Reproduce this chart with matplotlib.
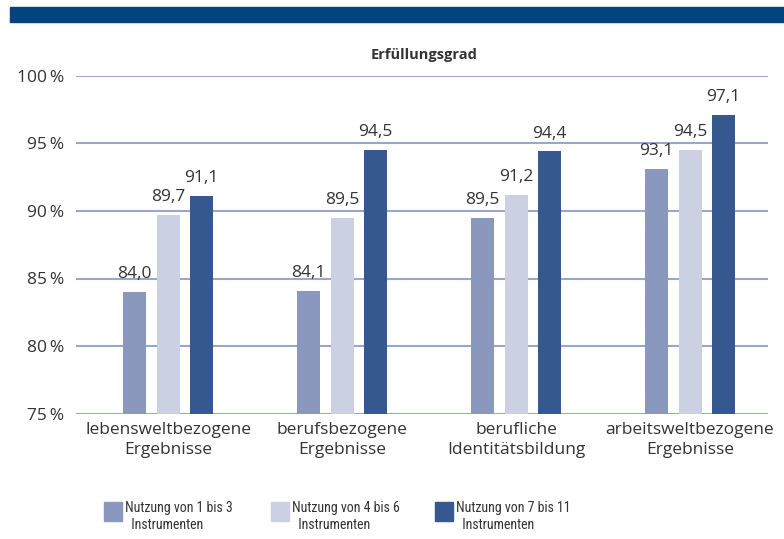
import numpy as np
import matplotlib.pyplot as plt
from matplotlib.patches import Rectangle

plt.rcParams['font.family'] = ['Open Sans', 'DejaVu Sans']

kategorien = ['lebensweltbezogene\nErgebnisse', 'berufsbezogene\nErgebnisse',
              'berufliche\nIdentitätsbildung', 'arbeitsweltbezogene\nErgebnisse']
gruppe_1_3 = [84.0, 84.1, 89.5, 93.1]
gruppe_4_6 = [89.7, 89.5, 91.2, 94.5]
gruppe_7_11 = [91.1, 94.5, 94.4, 97.1]
serien = ['Nutzung von 1 bis 3\n  Instrumenten', 'Nutzung von 4 bis 6\n  Instrumenten',
          'Nutzung von 7 bis 11\n  Instrumenten']
farben = ['#8b98bd', '#cbd0e3', '#35588f']
text_farbe = '#333333'
grid_farbe = '#9ba6cf'

fig = plt.figure(figsize=(7.84, 5.39), dpi=100)
W, H = 784, 539

# blue band on top
fig.patches.append(Rectangle((10 / W, 1 - 22 / H), 1 - 10 / W, 15 / H,
                             transform=fig.transFigure, color='#03437f', zorder=0))

ax = fig.add_axes([76 / W, 1 - 413.7 / H, (768 - 76) / W, (413.7 - 75.7) / H])
x = np.arange(len(kategorien))
breite = 23 / 174
abstand = 33.5 / 174
for i, (werte, farbe) in enumerate(zip([gruppe_1_3, gruppe_4_6, gruppe_7_11], farben)):
    pos = x + (i - 1) * abstand
    ax.bar(pos, [w - 75 for w in werte], bottom=75, width=breite, color=farbe, zorder=3)
    for p, w in zip(pos, werte):
        ax.annotate(f'{w:.1f}'.replace('.', ','), (p, w), xytext=(0, 7),
                    textcoords='offset points', ha='center', va='bottom',
                    fontsize=12.5, color=text_farbe)

ax.set_xlim(-0.529, 3.448)
ax.set_ylim(75, 100)
ax.set_yticks([75, 80, 85, 90, 95, 100])
ax.set_yticklabels([f'{t}\u2009%' for t in [75, 80, 85, 90, 95, 100]])
ax.yaxis.grid(True, color=grid_farbe, linewidth=1.5, zorder=0)
ax.set_xticks(x)
ax.set_xticklabels(kategorien, linespacing=1.3)
ax.tick_params(axis='both', length=0, labelsize=12.5, colors=text_farbe)
ax.tick_params(axis='y', pad=8.5)
ax.tick_params(axis='x', pad=6)
for s in ax.spines.values():
    s.set_visible(False)
ax.set_facecolor('none')

fig.text(424 / W, 1 - 55 / H, 'Erfüllungsgrad', ha='center', va='center',
         fontsize=10.5, fontweight='bold', color=text_farbe)

# legend drawn by hand
leg_x = [104, 271, 435]
for lx, name, farbe in zip(leg_x, serien, farben):
    fig.patches.append(Rectangle((lx / W, 1 - 521 / H), 18 / W, 19 / H,
                                 transform=fig.transFigure, color=farbe))
    fig.text((lx + 21) / W, 1 - 501 / H, name, ha='left', va='top',
             fontsize=10, color=text_farbe, linespacing=1.3,
             family=['Roboto Condensed', 'Roboto', 'Open Sans'], fontstretch='condensed')

fig.savefig('out.png', dpi=100)
